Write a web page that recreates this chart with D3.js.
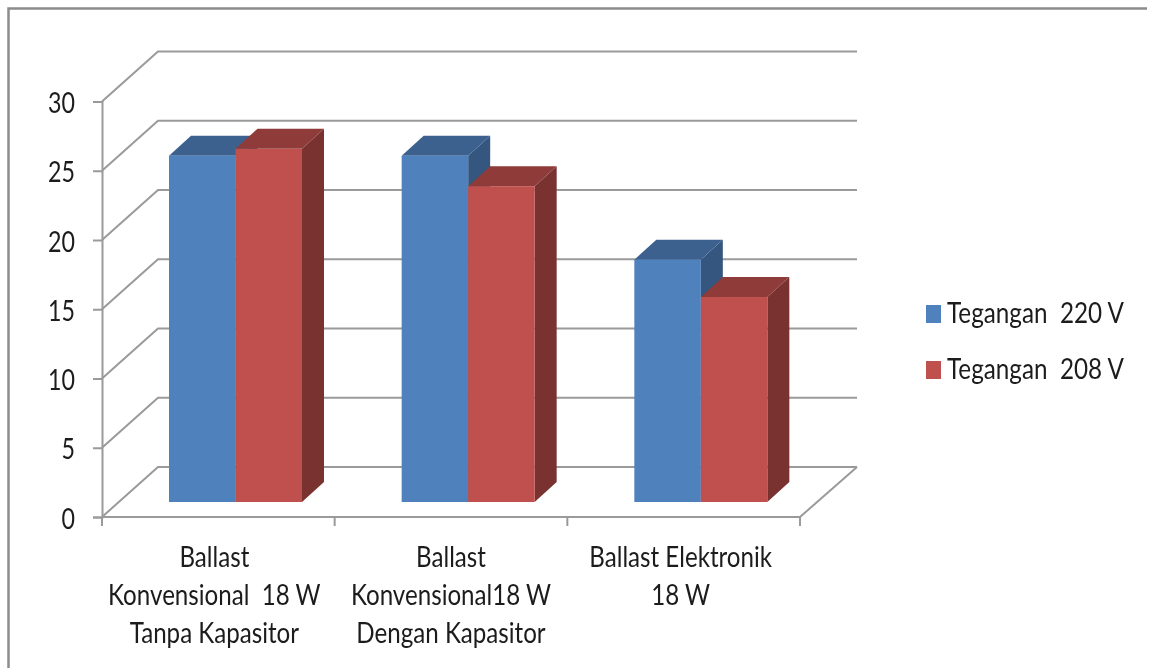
<!DOCTYPE html>
<html><head><meta charset="utf-8">
<script src="https://cdnjs.cloudflare.com/ajax/libs/d3/7.8.5/d3.min.js"></script>
<style>html,body{margin:0;padding:0;background:#fff}svg{display:block;filter:blur(0.45px)}text{font-family:"Lato","Noto Sans",sans-serif;fill:#1c1c1c;white-space:pre}</style>
</head><body><div id="c"></div>
<script>
const categories=[["Ballast","Konvensional  18 W","Tanpa Kapasitor"],["Ballast","Konvensional18 W","Dengan Kapasitor"],["Ballast Elektronik","18 W"]];
const seriesNames=["Tegangan  220 V","Tegangan  208 V"];
const v220=[25,25,17.5];
const v208=[25.5,22.8,14.8];
const yTicks=[0,5,10,15,20,25,30];
const front=["#4f81bd","#c0504d"],topC=["#3c618e","#8e3b39"],sideC=["#34567f","#7a3230"];
const W=1150,H=668;
const svg=d3.select("#c").append("svg").attr("width",W).attr("height",H);
svg.append("path").attr("d",`M8.5,${H} V8.5 H1147`).attr("fill","none").attr("stroke","#8c8c8c").attr("stroke-width",2.5);
const x=d3.scaleBand().domain(d3.range(categories.length)).range([102,800]);
const y=d3.scaleLinear().domain([0,30]).range([517,101.5]);
const wall={dx:56,dy:-50},base=-15,depth={dx:22,dy:-20};
const grid="#9a9a9a";
const g=svg.append("g").attr("fill","none").attr("stroke",grid).attr("stroke-width",2);
yTicks.forEach(t=>{
  g.append("path").attr("d",`M${x.range()[0]},${y(t)} L${x.range()[0]+wall.dx},${y(t)+wall.dy} H${x.range()[1]+wall.dx+1}`);
});
g.append("path").attr("d",`M${x.range()[1]},${y(0)} L${x.range()[1]+wall.dx+1},${y(0)+wall.dy}`);
const axL=svg.append("g").attr("transform",`translate(${x.range()[0]},0)`).call(d3.axisLeft(y).tickValues(yTicks).tickSize(9).tickPadding(7));
axL.selectAll("path,line").attr("stroke",grid).attr("stroke-width",2);
axL.selectAll("text").attr("x",0).attr("dy",0).attr("font-size",25).attr("fill","#1c1c1c").attr("font-family","Lato")
  .attr("text-anchor","end").attr("transform","translate(-27,11) scale(.93,1.14)");
const axB=svg.append("g");
axB.append("line").attr("x1",x.range()[0]).attr("x2",x.range()[1]).attr("y1",y(0)).attr("y2",y(0)).attr("stroke",grid).attr("stroke-width",2);
d3.range(categories.length+1).forEach(i=>axB.append("line").attr("x1",x.range()[0]+i*x.bandwidth()).attr("x2",x.range()[0]+i*x.bandwidth()).attr("y1",y(0)).attr("y2",y(0)+9).attr("stroke",grid).attr("stroke-width",2));
const barW=66.5;
const labelShift=[-4,0,-3];
const lineY=[567,605,643];
categories.forEach((c,i)=>{
  [v220,v208].forEach((vals,s)=>{
    const x0=x(i)+67+s*barW, x1=x0+barW, yb=y(0)+base, yt=y(vals[i])+base;
    const b=svg.append("g");
    b.append("path").attr("fill",sideC[s]).attr("d",`M${x1},${yb} L${x1+depth.dx},${yb+depth.dy} V${yt+depth.dy} L${x1},${yt} Z`);
    b.append("path").attr("fill",topC[s]).attr("d",`M${x0},${yt} L${x0+depth.dx},${yt+depth.dy} H${x1+depth.dx} L${x1},${yt} Z`);
    b.append("rect").attr("x",x0).attr("y",yt).attr("width",barW).attr("height",yb-yt).attr("fill",front[s]);
  });
  c.forEach((line,j)=>svg.append("text").attr("text-anchor","middle").attr("font-size",23)
    .attr("transform",`translate(${x(i)+x.bandwidth()/2+labelShift[i]},${lineY[j]}) scale(1.05,1.24)`).text(line));
});
seriesNames.forEach((n,s)=>{
  const yy=[305,361][s];
  svg.append("rect").attr("x",926).attr("y",yy).attr("width",15).attr("height",18).attr("fill",front[s]);
  svg.append("text").attr("font-size",24).attr("transform",`translate(947,${yy+18}) scale(1.01,1.2)`).text(n);
});
</script></body></html>
